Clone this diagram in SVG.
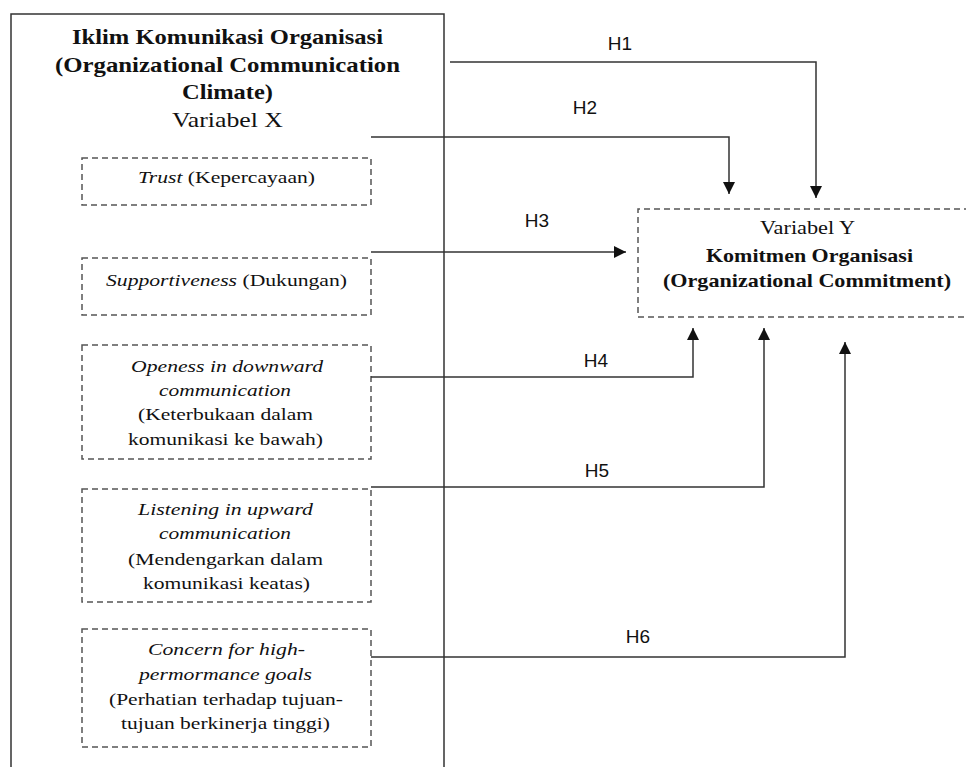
<svg xmlns="http://www.w3.org/2000/svg" width="966" height="767" viewBox="0 0 966 767">
<style>
.outer{fill:none;stroke:#333;stroke-width:1.5}
.dash{fill:#fff;stroke:#555;stroke-width:1.5;stroke-dasharray:6 4}
.t{font-family:"Liberation Serif","Times New Roman",serif;fill:#111}
.b{font-weight:bold}
.i{font-style:italic}
.lbl{font-family:"Liberation Sans",Arial,sans-serif;font-size:19px;fill:#111;text-anchor:middle}
.con{fill:none;stroke:#333;stroke-width:1.5}
</style>
<defs>
<marker id="ah" viewBox="0 0 12 12" refX="12" refY="6" markerWidth="12" markerHeight="12" markerUnits="userSpaceOnUse" orient="auto">
<path d="M0,0 L12,6 L0,12 z" fill="#111"/>
</marker>
</defs>
<rect width="966" height="767" fill="#fff"/>

<g id="variabel-x">
<path class="outer" d="M11,780 L11,14 L444,14 L444,780"/>
<text class="t b" font-size="21" x="72" y="44" textLength="311" lengthAdjust="spacingAndGlyphs">Iklim Komunikasi Organisasi</text>
<text class="t b" font-size="21" x="55" y="72" textLength="345" lengthAdjust="spacingAndGlyphs">(Organizational Communication</text>
<text class="t b" font-size="21" x="182" y="99" textLength="91" lengthAdjust="spacingAndGlyphs">Climate)</text>
<text class="t" font-size="21" x="172" y="127" textLength="111" lengthAdjust="spacingAndGlyphs">Variabel X</text>
</g>

<g id="trust">
<rect class="dash" x="82" y="158" width="289" height="47"/>
<text class="t" font-size="17" x="138" y="183" textLength="177" lengthAdjust="spacingAndGlyphs"><tspan class="i">Trust</tspan> (Kepercayaan)</text>
</g>

<g id="supportiveness">
<rect class="dash" x="82" y="258" width="289" height="57"/>
<text class="t" font-size="17" x="106" y="286" textLength="241" lengthAdjust="spacingAndGlyphs"><tspan class="i">Supportiveness</tspan> (Dukungan)</text>
</g>

<g id="openess">
<rect class="dash" x="82" y="345" width="289" height="114"/>
<text class="t i" font-size="17" x="131" y="372" textLength="192" lengthAdjust="spacingAndGlyphs">Openess in downward</text>
<text class="t i" font-size="17" x="159" y="396" textLength="132" lengthAdjust="spacingAndGlyphs">communication</text>
<text class="t" font-size="17" x="138" y="420" textLength="175" lengthAdjust="spacingAndGlyphs">(Keterbukaan dalam</text>
<text class="t" font-size="17" x="128" y="445" textLength="195" lengthAdjust="spacingAndGlyphs">komunikasi ke bawah)</text>
</g>

<g id="listening">
<rect class="dash" x="82" y="489" width="289" height="113"/>
<text class="t i" font-size="17" x="138" y="515" textLength="175" lengthAdjust="spacingAndGlyphs">Listening in upward</text>
<text class="t i" font-size="17" x="159" y="539" textLength="132" lengthAdjust="spacingAndGlyphs">communication</text>
<text class="t" font-size="17" x="128" y="565" textLength="195" lengthAdjust="spacingAndGlyphs">(Mendengarkan dalam</text>
<text class="t" font-size="17" x="143" y="589" textLength="167" lengthAdjust="spacingAndGlyphs">komunikasi keatas)</text>
</g>

<g id="concern">
<rect class="dash" x="82" y="629" width="289" height="118"/>
<text class="t i" font-size="17" x="148" y="655" textLength="157" lengthAdjust="spacingAndGlyphs">Concern for high-</text>
<text class="t i" font-size="17" x="139" y="680" textLength="173" lengthAdjust="spacingAndGlyphs">permormance goals</text>
<text class="t" font-size="17" x="109" y="705" textLength="234" lengthAdjust="spacingAndGlyphs">(Perhatian terhadap tujuan-</text>
<text class="t" font-size="17" x="121" y="729" textLength="209" lengthAdjust="spacingAndGlyphs">tujuan berkinerja tinggi)</text>
</g>

<g id="variabel-y">
<path class="dash" d="M980,209 L638,209 L638,317 L980,317"/>
<text class="t" font-size="19" x="760" y="234" textLength="95" lengthAdjust="spacingAndGlyphs">Variabel Y</text>
<text class="t b" font-size="19" x="706" y="262" textLength="207" lengthAdjust="spacingAndGlyphs">Komitmen Organisasi</text>
<text class="t b" font-size="19" x="663" y="287" textLength="288" lengthAdjust="spacingAndGlyphs">(Organizational Commitment)</text>
</g>

<g id="connectors">
<path class="con" d="M450,62 L816,62 L816,198" marker-end="url(#ah)"/>
<path class="con" d="M371,137 L729,137 L729,194" marker-end="url(#ah)"/>
<path class="con" d="M371,252 L626,252" marker-end="url(#ah)"/>
<path class="con" d="M371,377 L693,377 L693,328" marker-end="url(#ah)"/>
<path class="con" d="M371,487 L764,487 L764,328" marker-end="url(#ah)"/>
<path class="con" d="M371,657 L845,657 L845,342" marker-end="url(#ah)"/>
<text class="lbl" x="620" y="50">H1</text>
<text class="lbl" x="585" y="114">H2</text>
<text class="lbl" x="537" y="227">H3</text>
<text class="lbl" x="596" y="367">H4</text>
<text class="lbl" x="597" y="477">H5</text>
<text class="lbl" x="638" y="643">H6</text>
</g>
</svg>
